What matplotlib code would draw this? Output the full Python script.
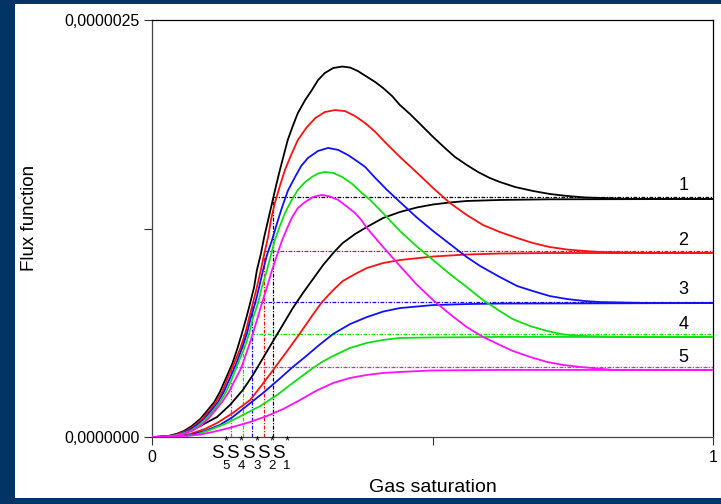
import matplotlib
matplotlib.use("Agg")
import matplotlib.pyplot as plt
from matplotlib.patches import Rectangle
import numpy as np

plt.rcParams['font.family'] = ['Liberation Sans', 'DejaVu Sans']

E = 1e-6
colors = ['#000000', '#ff1010', '#1010ff', '#10e010', '#ff10ff']
curve_ids = ['1', '2', '3', '4', '5']

# Upper (peaked) flux curves: x = gas saturation, y in units of 1e-6
up1_x = [0, 0.014, 0.029, 0.043, 0.057, 0.071, 0.086, 0.098, 0.111, 0.121, 0.132, 0.143, 0.152, 0.160, 0.168, 0.175, 0.182, 0.187, 0.194, 0.200, 0.207, 0.214, 0.221, 0.228, 0.235, 0.242, 0.251, 0.260, 0.273, 0.285, 0.296, 0.308, 0.323, 0.339, 0.353, 0.367, 0.381, 0.398, 0.412, 0.428, 0.442, 0.460, 0.478, 0.501, 0.522, 0.540, 0.561, 0.581, 0.602, 0.620, 0.647, 0.679, 0.709, 0.740, 0.772, 0.799, 0.852, 1.0]
up1_y = [0, 0.001, 0.006, 0.018, 0.036, 0.066, 0.108, 0.156, 0.210, 0.270, 0.354, 0.438, 0.528, 0.618, 0.713, 0.803, 0.899, 1.001, 1.097, 1.199, 1.301, 1.403, 1.505, 1.601, 1.691, 1.781, 1.865, 1.942, 2.020, 2.080, 2.140, 2.182, 2.212, 2.221, 2.215, 2.194, 2.164, 2.128, 2.092, 2.044, 1.990, 1.936, 1.876, 1.799, 1.733, 1.679, 1.631, 1.589, 1.553, 1.529, 1.499, 1.475, 1.457, 1.445, 1.436, 1.433, 1.427, 1.427]

up2_x = [0, 0.018, 0.032, 0.046, 0.061, 0.075, 0.089, 0.102, 0.114, 0.125, 0.135, 0.146, 0.157, 0.166, 0.173, 0.180, 0.187, 0.194, 0.200, 0.207, 0.212, 0.219, 0.228, 0.237, 0.248, 0.260, 0.275, 0.291, 0.308, 0.326, 0.344, 0.362, 0.380, 0.398, 0.415, 0.442, 0.469, 0.501, 0.531, 0.561, 0.590, 0.620, 0.651, 0.679, 0.709, 0.740, 0.772, 0.799, 0.888, 1.0]
up2_y = [0, 0.001, 0.006, 0.018, 0.036, 0.066, 0.108, 0.156, 0.210, 0.270, 0.354, 0.438, 0.528, 0.618, 0.713, 0.803, 0.899, 1.001, 1.097, 1.199, 1.301, 1.403, 1.505, 1.601, 1.691, 1.781, 1.853, 1.912, 1.948, 1.960, 1.954, 1.924, 1.882, 1.829, 1.769, 1.679, 1.595, 1.493, 1.403, 1.331, 1.271, 1.229, 1.193, 1.163, 1.139, 1.124, 1.115, 1.109, 1.103, 1.103]

up3_x = [0, 0.020, 0.034, 0.050, 0.064, 0.078, 0.093, 0.105, 0.118, 0.128, 0.139, 0.150, 0.160, 0.169, 0.176, 0.184, 0.191, 0.198, 0.205, 0.214, 0.223, 0.232, 0.242, 0.255, 0.266, 0.278, 0.296, 0.314, 0.332, 0.349, 0.365, 0.380, 0.398, 0.419, 0.442, 0.471, 0.501, 0.531, 0.561, 0.585, 0.620, 0.651, 0.679, 0.709, 0.740, 0.772, 0.799, 0.888, 1.0]
up3_y = [0, 0.001, 0.006, 0.018, 0.036, 0.066, 0.108, 0.156, 0.210, 0.270, 0.354, 0.438, 0.528, 0.618, 0.713, 0.803, 0.899, 1.001, 1.091, 1.181, 1.283, 1.379, 1.475, 1.559, 1.625, 1.673, 1.715, 1.733, 1.721, 1.691, 1.655, 1.619, 1.553, 1.481, 1.409, 1.319, 1.235, 1.157, 1.079, 1.025, 0.959, 0.905, 0.875, 0.845, 0.827, 0.815, 0.809, 0.803, 0.803]

up4_x = [0, 0.021, 0.036, 0.052, 0.068, 0.082, 0.096, 0.109, 0.121, 0.132, 0.143, 0.153, 0.164, 0.173, 0.180, 0.189, 0.196, 0.205, 0.212, 0.219, 0.228, 0.237, 0.248, 0.260, 0.273, 0.285, 0.296, 0.308, 0.323, 0.339, 0.357, 0.374, 0.389, 0.415, 0.442, 0.471, 0.501, 0.531, 0.561, 0.590, 0.620, 0.643, 0.674, 0.704, 0.733, 0.763, 0.834, 1.0]
up4_y = [0, 0.001, 0.006, 0.018, 0.036, 0.066, 0.108, 0.156, 0.210, 0.270, 0.354, 0.438, 0.528, 0.618, 0.713, 0.803, 0.899, 1.001, 1.091, 1.181, 1.265, 1.343, 1.415, 1.481, 1.529, 1.559, 1.580, 1.589, 1.583, 1.559, 1.517, 1.463, 1.421, 1.331, 1.235, 1.145, 1.061, 0.977, 0.899, 0.821, 0.755, 0.707, 0.665, 0.636, 0.615, 0.606, 0.600, 0.600]

up5_x = [0, 0.023, 0.039, 0.055, 0.071, 0.086, 0.100, 0.112, 0.125, 0.137, 0.148, 0.159, 0.169, 0.178, 0.187, 0.196, 0.205, 0.214, 0.223, 0.232, 0.241, 0.250, 0.260, 0.273, 0.287, 0.303, 0.317, 0.332, 0.346, 0.362, 0.373, 0.383, 0.412, 0.442, 0.471, 0.501, 0.531, 0.561, 0.590, 0.620, 0.643, 0.674, 0.704, 0.733, 0.763, 0.822, 1.0]
up5_y = [0, 0.001, 0.006, 0.018, 0.036, 0.066, 0.108, 0.156, 0.210, 0.270, 0.342, 0.414, 0.510, 0.600, 0.701, 0.803, 0.899, 1.001, 1.091, 1.181, 1.253, 1.319, 1.373, 1.409, 1.439, 1.451, 1.442, 1.421, 1.385, 1.343, 1.301, 1.253, 1.139, 1.025, 0.917, 0.821, 0.737, 0.659, 0.600, 0.552, 0.516, 0.480, 0.450, 0.432, 0.420, 0.402, 0.402]

# Lower (monotone) curves
lo1_x = [0, 0.032, 0.059, 0.086, 0.116, 0.139, 0.162, 0.180, 0.198, 0.216, 0.234, 0.251, 0.269, 0.287, 0.305, 0.323, 0.340, 0.362, 0.383, 0.412, 0.442, 0.472, 0.501, 0.531, 0.561, 0.620, 0.709, 1.0]
lo1_y = [0, 0.006, 0.030, 0.066, 0.120, 0.192, 0.282, 0.372, 0.474, 0.576, 0.677, 0.773, 0.863, 0.947, 1.031, 1.103, 1.163, 1.217, 1.259, 1.313, 1.349, 1.376, 1.394, 1.406, 1.415, 1.421, 1.425, 1.427]

lo2_x = [0, 0.041, 0.068, 0.094, 0.116, 0.144, 0.175, 0.196, 0.216, 0.241, 0.264, 0.285, 0.303, 0.323, 0.340, 0.362, 0.383, 0.412, 0.442, 0.501, 0.561, 0.620, 0.709, 1.0]
lo2_y = [0, 0.006, 0.018, 0.048, 0.084, 0.144, 0.222, 0.312, 0.402, 0.516, 0.623, 0.725, 0.809, 0.881, 0.935, 0.977, 1.013, 1.043, 1.061, 1.082, 1.094, 1.100, 1.103, 1.103]

lo3_x = [0, 0.041, 0.068, 0.094, 0.121, 0.144, 0.171, 0.198, 0.225, 0.251, 0.273, 0.296, 0.323, 0.353, 0.383, 0.412, 0.442, 0.501, 0.561, 0.620, 1.0]
lo3_y = [0, 0.003, 0.012, 0.036, 0.072, 0.120, 0.192, 0.264, 0.342, 0.420, 0.480, 0.546, 0.618, 0.677, 0.719, 0.752, 0.773, 0.791, 0.797, 0.800, 0.803]

lo4_x = [0, 0.041, 0.077, 0.103, 0.134, 0.162, 0.193, 0.223, 0.251, 0.282, 0.303, 0.323, 0.353, 0.383, 0.412, 0.442, 0.501, 0.620, 1.0]
lo4_y = [0, 0.003, 0.012, 0.042, 0.084, 0.132, 0.186, 0.252, 0.324, 0.402, 0.450, 0.486, 0.534, 0.564, 0.582, 0.594, 0.597, 0.600, 0.600]

lo5_x = [0, 0.050, 0.086, 0.116, 0.144, 0.175, 0.205, 0.234, 0.264, 0.292, 0.323, 0.353, 0.383, 0.412, 0.442, 0.501, 0.620, 1.0]
lo5_y = [0, 0.003, 0.015, 0.036, 0.060, 0.090, 0.126, 0.168, 0.222, 0.276, 0.324, 0.354, 0.372, 0.384, 0.390, 0.399, 0.402, 0.402]

upper_x = [up1_x, up2_x, up3_x, up4_x, up5_x]
upper_y = [up1_y, up2_y, up3_y, up4_y, up5_y]
lower_x = [lo1_x, lo2_x, lo3_x, lo4_x, lo5_x]
lower_y = [lo1_y, lo2_y, lo3_y, lo4_y, lo5_y]

# Critical saturations S*_1..S*_5 and plateau levels (1e-6)
s_star = [0.216, 0.200, 0.179, 0.162, 0.141]
levels = [1.439, 1.115, 0.809, 0.615, 0.417]
label_y = [1.505, 1.181, 0.887, 0.677, 0.474]

fig = plt.figure(figsize=(7.21, 5.04), dpi=100)
fig.patch.set_facecolor('#023466')
bg = Rectangle((15 / 721, 6 / 504), 706 / 721, 494 / 504,
               transform=fig.transFigure, facecolor='white',
               edgecolor='none', zorder=-10)
fig.add_artist(bg)

ax = fig.add_axes([152 / 721, 67 / 504, 561 / 721, 417 / 504])
ax.set_facecolor('white')

dash = (0, (3, 1.2, 1, 1.2))
for i in range(5):
    c = colors[i]
    ax.plot([s_star[i], s_star[i]], [0, levels[i] * E], color=c, lw=0.9, linestyle=dash, zorder=2)
    ax.plot([s_star[i], 1.0], [levels[i] * E, levels[i] * E], color=c, lw=0.9, linestyle=dash, zorder=2)

for i in range(5):
    c = colors[i]
    ax.plot(lower_x[i], np.array(lower_y[i]) * E, color=c, lw=1.3, zorder=3,
            solid_joinstyle='round')
    ax.plot(upper_x[i], np.array(upper_y[i]) * E, color=c, lw=1.3, zorder=3,
            solid_joinstyle='round')
    ax.text(0.947, label_y[i] * E, curve_ids[i], fontsize=13, ha='center', va='center', zorder=4)

ax.set_xlim(0, 1)
ax.set_ylim(0, 2.5e-6)
ax.set_xticks([0, 0.5, 1])
ax.set_xticklabels(['0', '', '1'])
ax.set_yticks([0, 1.25e-6, 2.5e-6])
ax.set_yticklabels(['0,0000000', '', '0,0000025'])
ax.tick_params(direction='out', length=6, width=0.8, labelsize=11.5, colors='#333333', labelcolor='black', pad=3)

for s in ['left', 'bottom']:
    ax.spines[s].set_color('#444444')
    ax.spines[s].set_linewidth(0.9)
for s in ['top', 'right']:
    ax.spines[s].set_color('black')
    ax.spines[s].set_linewidth(0.9)

fig.text(30 / 721, 1 - 218 / 504, 'Flux function', rotation=90, fontsize=13.5, ha='center', va='center')
fig.text(433 / 721, 1 - 488 / 504, 'Gas saturation', fontsize=14, ha='center', va='center')

# S* labels under the axis
s_centers = [217, 232, 248, 263, 278]
s_nums = ['5', '4', '3', '2', '1']
for xc, n in zip(s_centers, s_nums):
    fig.text(xc / 721, 1 - 454 / 504, 'S', fontsize=13.5, ha='center', va='center')
    fig.text((xc + 9) / 721, 1 - 466 / 504, n, fontsize=9.5, ha='center', va='center')
    fig.text((xc + 9) / 721, 1 - 441 / 504, '*', fontsize=9, ha='center', va='center')

fig.savefig('out.png', dpi=100, facecolor=fig.get_facecolor())
